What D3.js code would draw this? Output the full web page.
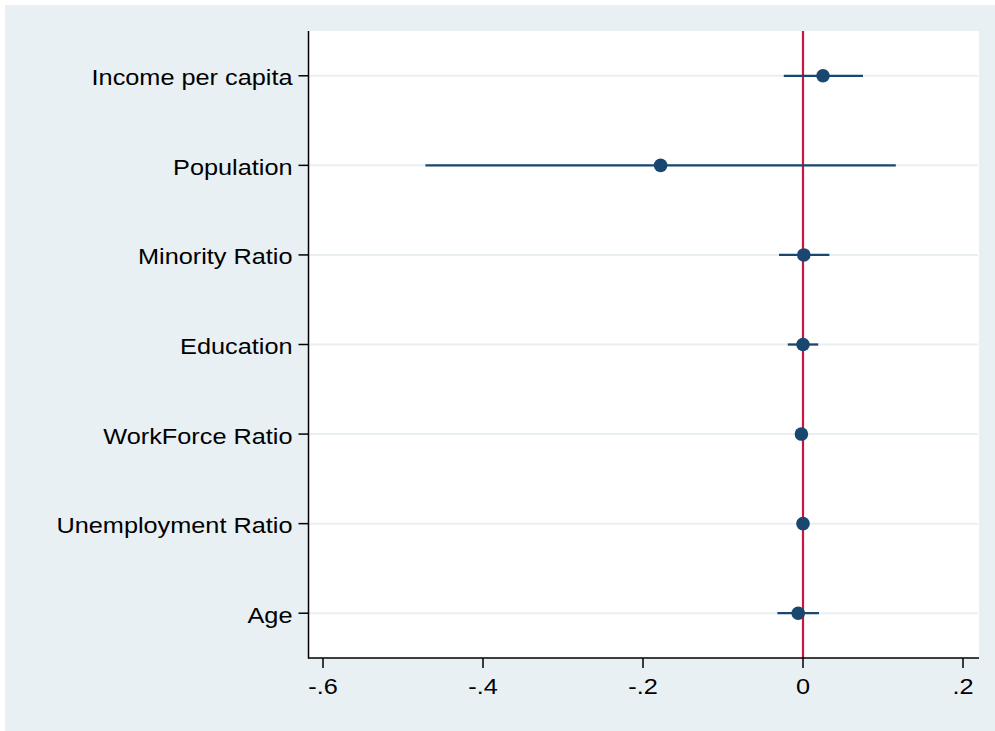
<!DOCTYPE html>
<html>
<head>
<meta charset="utf-8">
<script src="https://cdn.jsdelivr.net/npm/d3@7"></script>
<style>
  html, body { margin: 0; padding: 0; background: #ffffff; }
  svg { display: block; }
  text { font-family: "Liberation Sans", Arial, Helvetica, sans-serif; fill: #000; }
</style>
</head>
<body>
<svg id="chart" width="995" height="731"></svg>
<script>
// ---- data ----
const categories = ["Income per capita", "Population", "Minority Ratio", "Education",
                    "WorkForce Ratio", "Unemployment Ratio", "Age"];
const estimates  = [0.025, -0.178, 0.001, 0.000, -0.002, 0.000, -0.006];
const ciLower    = [-0.024, -0.472, -0.030, -0.019, -0.004, -0.002, -0.032];
const ciUpper    = [0.075, 0.116, 0.033, 0.019, 0.000, 0.002, 0.020];
const xTickValues = [-0.6, -0.4, -0.2, 0, 0.2];
const xTickLabels = ["-.6", "-.4", "-.2", "0", ".2"];
const refLineValue = 0;

// ---- layout ----
const W = 995, H = 731;
const plot = { left: 308.5, right: 979, top: 31, bottom: 658 };
const fontSize = 22, stretch = 1.15;
const colBg = "#E9F0F3", colGrid = "#E8EFF2", colDot = "#1A476F", colRef = "#C8163E";

const svg = d3.select("#chart");

// background
svg.append("rect").attr("x", 0).attr("y", 0).attr("width", W).attr("height", H).attr("fill", "#fff");
svg.append("rect").attr("x", 5).attr("y", 5).attr("width", W - 5).attr("height", H - 5).attr("fill", colBg);
svg.append("rect").attr("x", plot.left).attr("y", plot.top)
   .attr("width", plot.right - plot.left).attr("height", plot.bottom - plot.top).attr("fill", "#fff");

// scales
const x = d3.scaleLinear()
  .domain([(plot.left - 803) / 800, (plot.right - 803) / 800])
  .range([plot.left, plot.right]);
const y = d3.scaleLinear().domain([0.5, categories.length + 0.5]).range([plot.top, plot.bottom]);

const rows = categories.map((c, i) => ({ cat: c, i: i + 1, est: estimates[i], lo: ciLower[i], hi: ciUpper[i] }));

// gridlines
svg.append("g").selectAll("line").data(rows).join("line")
  .attr("x1", plot.left).attr("x2", plot.right - 1)
  .attr("y1", d => y(d.i)).attr("y2", d => y(d.i))
  .attr("stroke", colGrid).attr("stroke-width", 2);

// reference line
svg.append("line")
  .attr("x1", x(refLineValue)).attr("x2", x(refLineValue))
  .attr("y1", plot.top).attr("y2", plot.bottom)
  .attr("stroke", colRef).attr("stroke-width", 2.2);

// CI lines
svg.append("g").selectAll("line").data(rows).join("line")
  .attr("x1", d => x(d.lo)).attr("x2", d => x(d.hi))
  .attr("y1", d => y(d.i)).attr("y2", d => y(d.i))
  .attr("stroke", colDot).attr("stroke-width", 2.3);

// points
svg.append("g").selectAll("circle").data(rows).join("circle")
  .attr("cx", d => x(d.est)).attr("cy", d => y(d.i)).attr("r", 6.8)
  .attr("fill", colDot);

// y axis
svg.append("line").attr("x1", plot.left).attr("x2", plot.left)
  .attr("y1", plot.top).attr("y2", plot.bottom + 0.75)
  .attr("stroke", "#000").attr("stroke-width", 1.5);
const yt = svg.append("g").selectAll("g").data(rows).join("g")
  .attr("transform", d => `translate(0,${y(d.i)})`);
yt.append("line").attr("x1", plot.left - 10).attr("x2", plot.left)
  .attr("stroke", "#000").attr("stroke-width", 1.5);
yt.append("text")
  .attr("transform", `translate(${plot.left - 16},9.5) scale(${stretch},1)`)
  .attr("text-anchor", "end").attr("font-size", fontSize)
  .text(d => d.cat);

// x axis
svg.append("line").attr("x1", plot.left).attr("x2", plot.right)
  .attr("y1", plot.bottom).attr("y2", plot.bottom)
  .attr("stroke", "#000").attr("stroke-width", 1.5);
const xt = svg.append("g").selectAll("g").data(xTickValues).join("g")
  .attr("transform", d => `translate(${x(d)},${plot.bottom})`);
xt.append("line").attr("y1", 0).attr("y2", 10)
  .attr("stroke", "#000").attr("stroke-width", 1.5);
xt.append("text")
  .attr("transform", `translate(0,35.5) scale(${stretch},1)`)
  .attr("text-anchor", "middle").attr("font-size", fontSize)
  .text((d, i) => xTickLabels[i]);
</script>
</body>
</html>
